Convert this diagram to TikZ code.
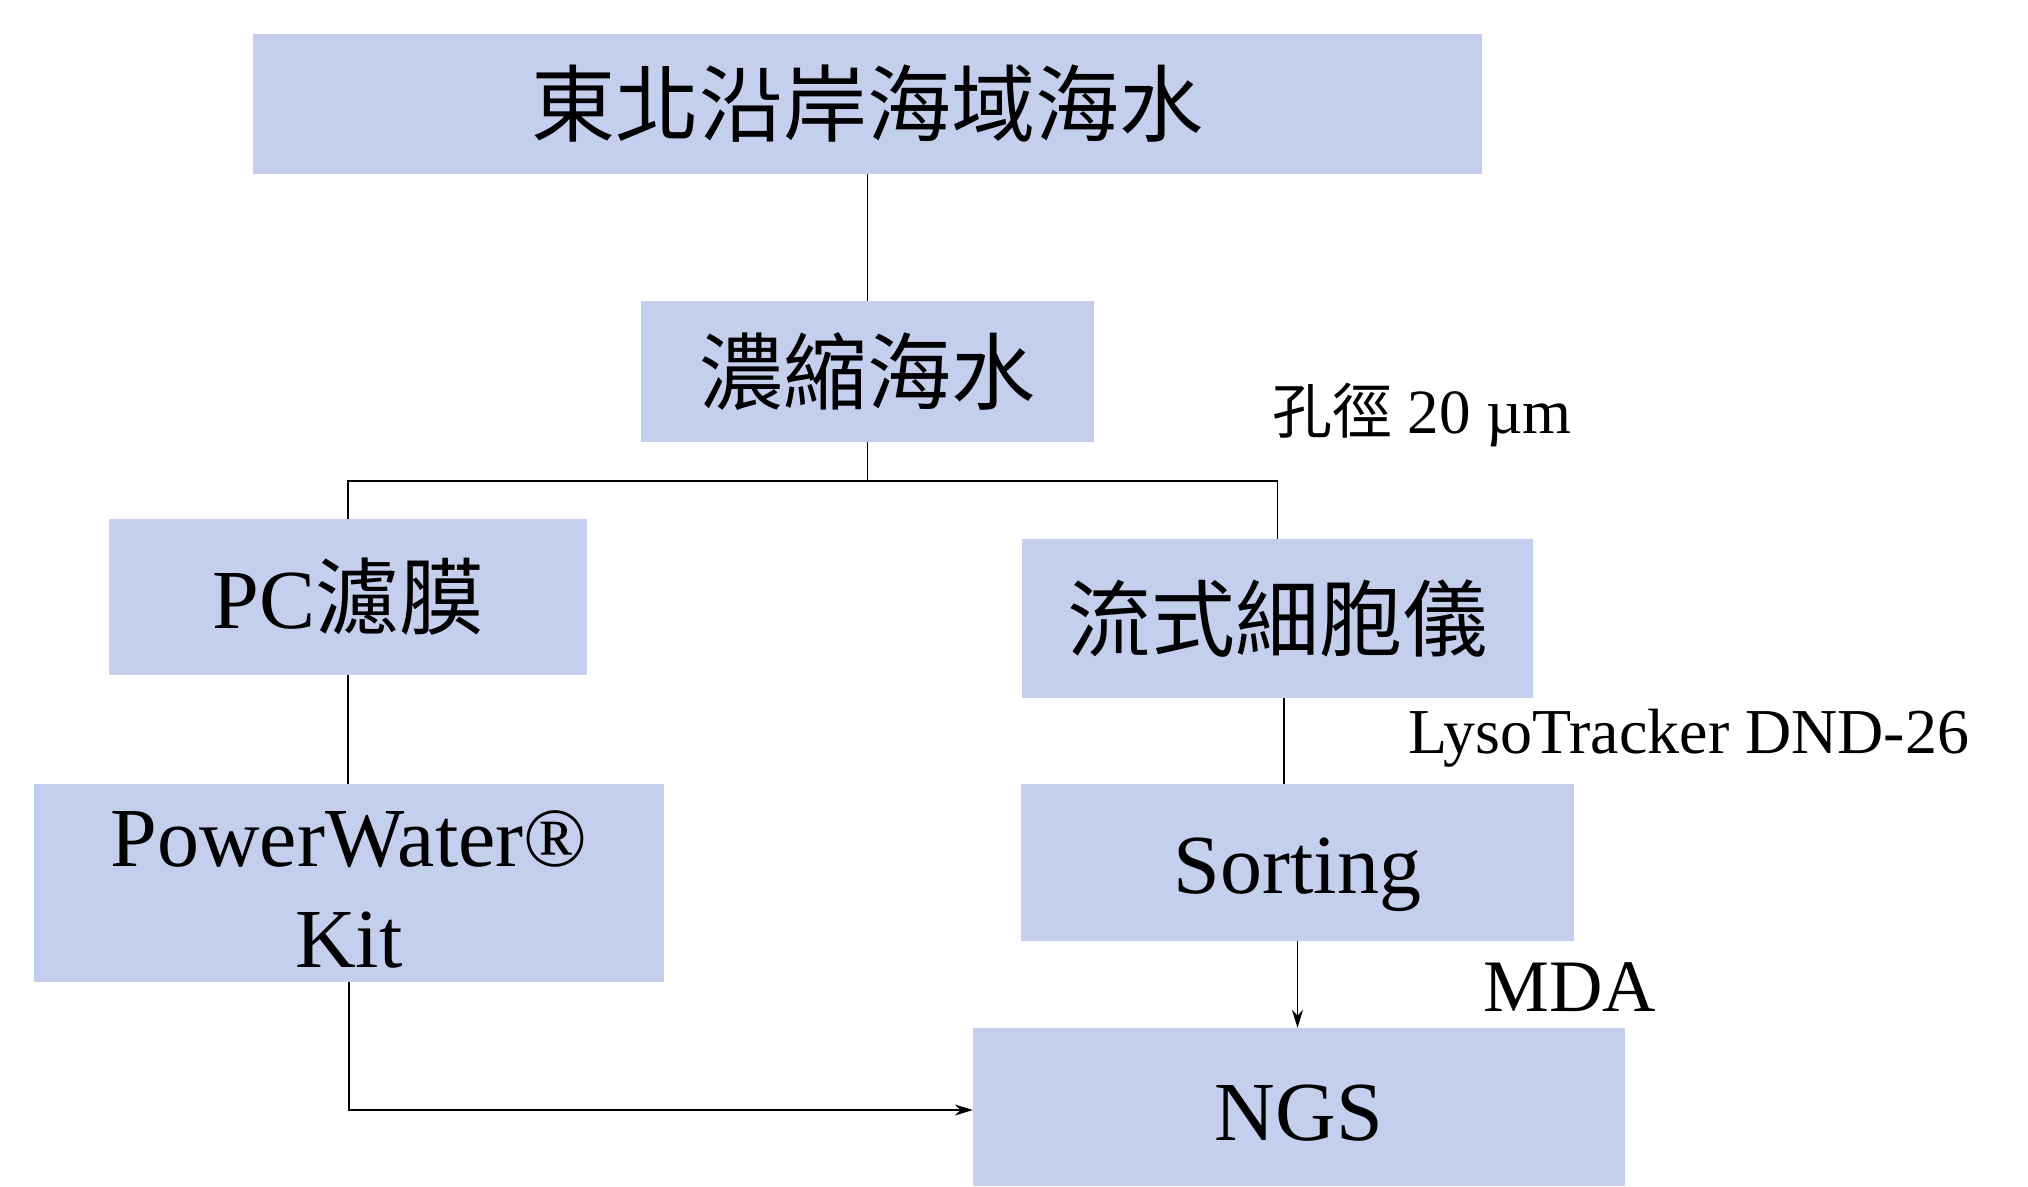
\documentclass[tikz,border=0pt]{standalone}
\usepackage{fontspec}
\setmainfont{Liberation Serif}
\newfontfamily\cjk{Noto Sans CJK TC}
\usepackage{graphicx}
\usetikzlibrary{arrows.meta}
\definecolor{boxfill}{RGB}{196,207,237}
\newcommand{\lowr}[2]{\raisebox{-#1}[\height][\depth]{#2}}
\begin{document}
\begin{tikzpicture}[x=1pt,y=-1pt,
  box/.style={fill=boxfill, draw=none, inner sep=0pt, align=center, font=\fontsize{84}{101}\selectfont},
  conn/.style={line width=1.8pt, black},
  arr/.style={conn, -{Stealth[length=18pt,width=11pt]}},
  lbl/.style={anchor=base west, inner sep=0pt}]
\useasboundingbox (0,0) rectangle (2028,1186);
\node[box, minimum width=1229pt, minimum height=140pt] (top) at (867.5,104) {\cjk 東北沿岸海域海水};
\node[box, minimum width=453pt, minimum height=141pt] (conc) at (867.5,371.5) {\cjk 濃縮海水};
\node[box, minimum width=478pt, minimum height=156pt] (pc) at (348,597) {PC{\cjk 濾膜}};
\node[box, minimum width=511pt, minimum height=159pt] (flow) at (1277.5,618.5) {\cjk 流式細胞儀};
\node[box, minimum width=630pt, minimum height=198pt] (pw) at (349,883) {\lowr{6pt}{PowerWater®}\\\lowr{6pt}{Kit}};
\node[box, minimum width=553pt, minimum height=157pt] (sort) at (1297.5,862.5) {\lowr{12pt}{Sorting}};
\node[box, minimum width=652pt, minimum height=158pt] (ngs) at (1299,1107) {\lowr{6pt}{NGS}};
\coordinate (jn) at (867.5,481);
\draw[conn] (top.south) -- (conc.north);
\draw[conn] (conc.south) -- (jn) -| (pc.north);
\draw[conn] (jn) -| (flow.north);
\draw[conn] ([xshift=6.5pt]flow.south) -- ([xshift=6.5pt]flow.south |- sort.north);
\draw[conn] (pc.south) -- (pc.south |- pw.north);
\draw[arr] (sort.south) -- (sort.south |- ngs.north);
\draw[arr] (pw.south) |- ([yshift=-3pt]ngs.west);
\node[lbl, font=\fontsize{63}{75}\selectfont] (pore) at (1272,433) {{\cjk\fontsize{60}{72}\selectfont 孔徑} 20 µm};
\node[lbl, font=\fontsize{64}{76}\selectfont] (lyso) at (1408,753) {LysoTracker DND-26};
\node[lbl, font=\fontsize{74}{88}\selectfont] (mda) at (1483,1011) {MDA};
\end{tikzpicture}
\end{document}
